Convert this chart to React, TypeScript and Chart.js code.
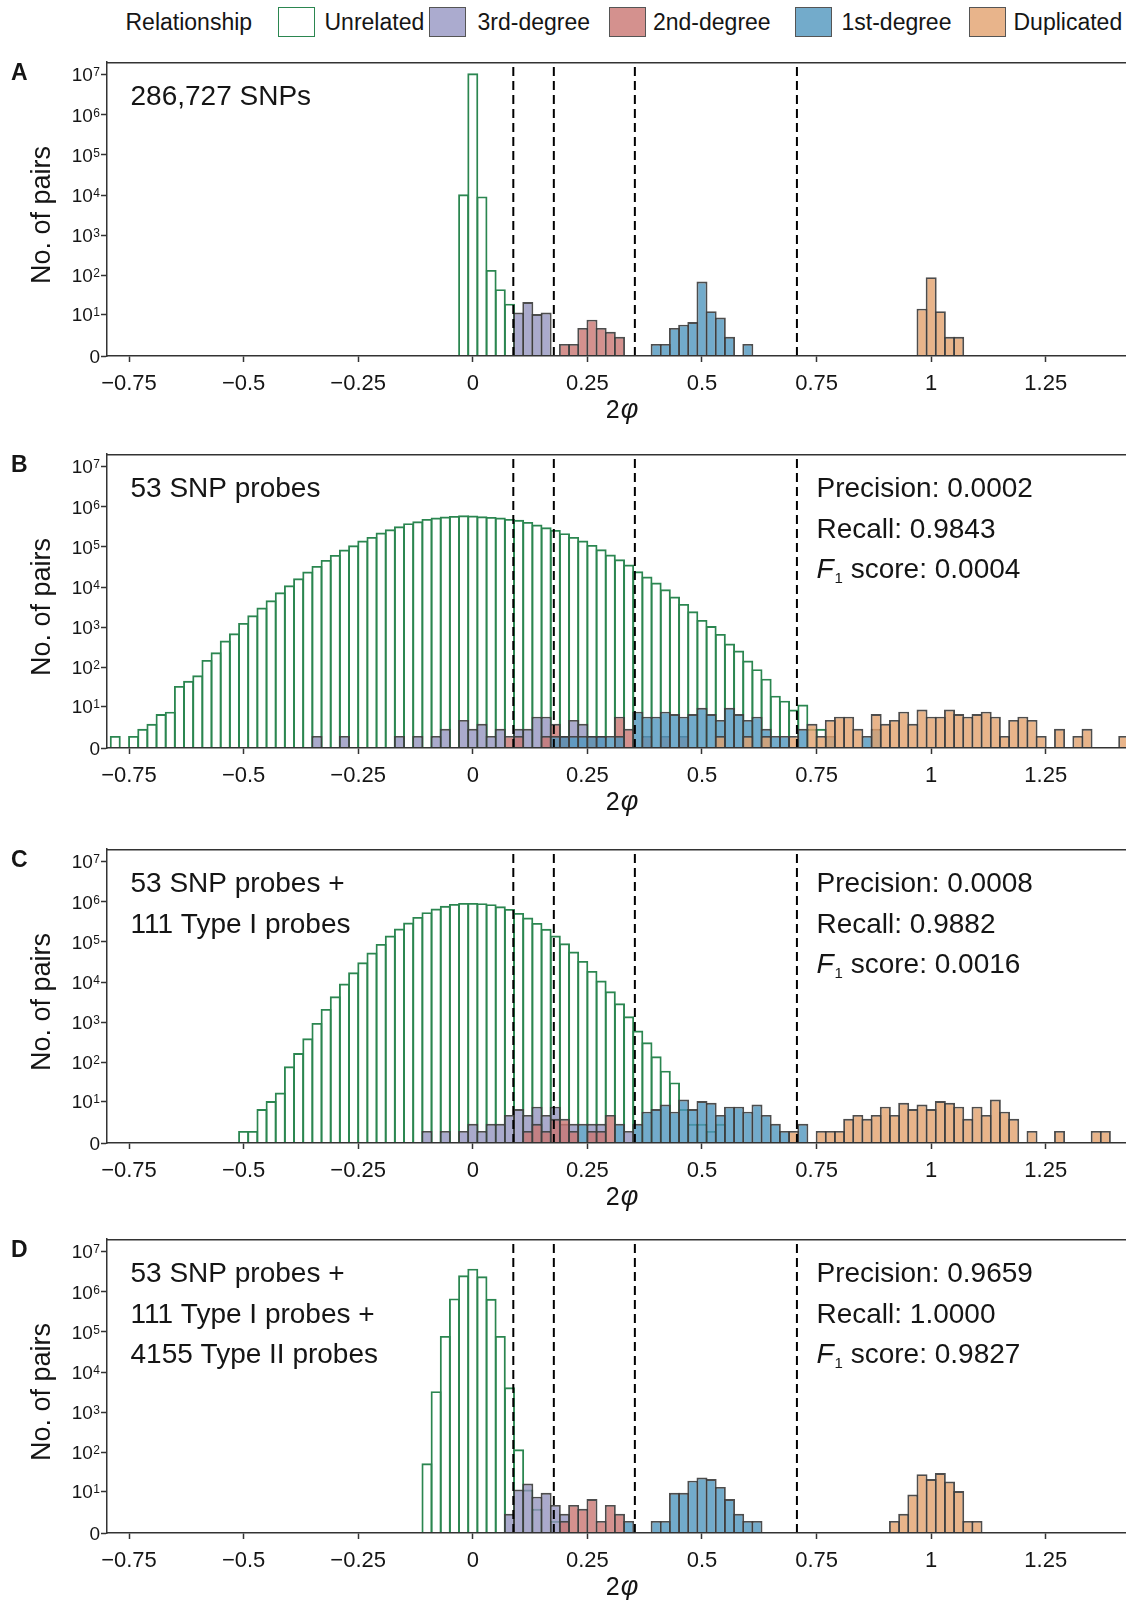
import React, { useEffect, useRef } from 'react';
import { Chart, Scale, registerables } from 'chart.js';

Chart.register(...registerables);

type Pair = [number, number];

// ---------------- data (2φ bin centre, number of pairs) ----------------
const X_TICKS = [-0.75, -0.5, -0.25, 0, 0.25, 0.5, 0.75, 1, 1.25];
const Y_TICKS = [0, 10, 100, 1e3, 1e4, 1e5, 1e6, 1e7];
const THRESHOLDS = [2 ** -3.5, 2 ** -2.5, 2 ** -1.5, 2 ** -0.5];
const LEGEND_TITLE = 'Relationship';
const CATEGORIES = ['Unrelated', '3rd-degree', '2nd-degree', '1st-degree', 'Duplicated'];

const A_UNRELATED: Pair[] = [[-0.02, 10500], [0, 10700000], [0.02, 9300], [0.04, 137], [0.06, 45], [0.08, 19]];
const A_THIRD: Pair[] = [[0.1, 11], [0.12, 21], [0.14, 10], [0.16, 11]];
const A_SECOND: Pair[] = [[0.2, 1], [0.22, 1], [0.24, 4], [0.26, 7], [0.28, 4], [0.3, 3], [0.32, 2]];
const A_FIRST: Pair[] = [[0.4, 1], [0.42, 1], [0.44, 4], [0.46, 5], [0.48, 6], [0.5, 70], [0.52, 12], [0.54, 8], [0.56, 2], [0.6, 1]];
const A_DUP: Pair[] = [[0.98, 14], [1, 90], [1.02, 12], [1.04, 2], [1.06, 2]];

const B_UNRELATED: Pair[] = [
  [-0.78, 1], [-0.74, 1], [-0.72, 2], [-0.7, 3], [-0.68, 6], [-0.66, 7], [-0.64, 34], [-0.62, 46],
  [-0.6, 63], [-0.58, 154], [-0.56, 239], [-0.54, 467], [-0.52, 711], [-0.5, 1285], [-0.48, 1995],
  [-0.46, 3097], [-0.44, 4713], [-0.42, 7450], [-0.4, 11120], [-0.38, 16630], [-0.36, 24330],
  [-0.34, 33650], [-0.32, 47500], [-0.3, 63250], [-0.28, 85900], [-0.26, 110000], [-0.24, 143800],
  [-0.22, 177400], [-0.2, 227500], [-0.18, 275000], [-0.16, 326500], [-0.14, 388000], [-0.12, 434700],
  [-0.1, 497500], [-0.08, 537000], [-0.06, 569000], [-0.04, 590000], [-0.02, 613000], [0, 600000],
  [0.02, 579000], [0.04, 557000], [0.06, 537000], [0.08, 497000], [0.1, 470000], [0.12, 419000],
  [0.14, 360000], [0.16, 308000], [0.18, 265000], [0.2, 219000], [0.22, 177000], [0.24, 144000],
  [0.26, 112000], [0.28, 87500], [0.3, 64400], [0.32, 49300], [0.34, 36400], [0.36, 24800],
  [0.38, 18300], [0.4, 13000], [0.42, 8850], [0.44, 5820], [0.46, 3820], [0.48, 2510], [0.5, 1530],
  [0.52, 1080], [0.54, 685], [0.56, 393], [0.58, 263], [0.6, 148], [0.62, 90], [0.64, 52], [0.66, 19],
  [0.68, 14], [0.7, 8], [0.72, 11], [0.74, 2], [0.76, 2],
];
const B_THIRD: Pair[] = [
  [-0.34, 1], [-0.28, 1], [-0.16, 1], [-0.12, 1], [-0.08, 1], [-0.06, 2], [-0.02, 4], [0, 2], [0.02, 3],
  [0.04, 1], [0.06, 2], [0.1, 2], [0.12, 2], [0.14, 5], [0.16, 5], [0.2, 1], [0.22, 4], [0.24, 3], [0.28, 1],
];
const B_SECOND: Pair[] = [
  [0.08, 1], [0.1, 1], [0.16, 1], [0.18, 3], [0.2, 1], [0.26, 1], [0.32, 5], [0.34, 2], [0.38, 1], [0.42, 1], [0.46, 1],
];
const B_FIRST: Pair[] = [
  [0.18, 1], [0.2, 1], [0.22, 1], [0.24, 1], [0.26, 1], [0.28, 1], [0.3, 1], [0.32, 1], [0.36, 7], [0.38, 5],
  [0.4, 5], [0.42, 7], [0.44, 6], [0.46, 5], [0.48, 6], [0.5, 9], [0.52, 6], [0.54, 4], [0.56, 9], [0.58, 6],
  [0.6, 4], [0.62, 5], [0.64, 2], [0.66, 1], [0.68, 1], [0.72, 2], [0.78, 1], [0.86, 1], [0.88, 2],
];
const B_DUP: Pair[] = [
  [0.54, 1], [0.6, 1], [0.64, 1], [0.7, 1], [0.74, 3], [0.76, 1], [0.78, 4], [0.8, 5], [0.82, 5], [0.84, 2],
  [0.88, 6], [0.9, 3], [0.92, 4], [0.94, 7], [0.96, 3], [0.98, 8], [1, 5], [1.02, 5], [1.04, 8], [1.06, 6],
  [1.08, 5], [1.1, 6], [1.12, 7], [1.14, 5], [1.16, 1], [1.18, 4], [1.2, 5], [1.22, 4], [1.24, 1], [1.28, 2],
  [1.32, 1], [1.34, 2], [1.42, 1],
];

const C_UNRELATED: Pair[] = [
  [-0.5, 1], [-0.48, 1], [-0.46, 6], [-0.44, 10], [-0.42, 17], [-0.4, 80], [-0.38, 172], [-0.36, 401],
  [-0.34, 966], [-0.32, 2150], [-0.3, 4450], [-0.28, 9200], [-0.26, 17600], [-0.24, 31200], [-0.22, 54300],
  [-0.2, 89100], [-0.18, 143800], [-0.16, 214700], [-0.14, 303000], [-0.12, 419000], [-0.1, 547000],
  [-0.08, 675000], [-0.06, 787000], [-0.04, 882000], [-0.02, 934000], [0, 934000], [0.02, 916000],
  [0.04, 865000], [0.06, 771000], [0.08, 662000], [0.1, 526000], [0.12, 403000], [0.14, 297000],
  [0.16, 211000], [0.18, 144000], [0.2, 92700], [0.22, 57500], [0.24, 33700], [0.26, 19000], [0.28, 10900],
  [0.3, 5930], [0.32, 2980], [0.34, 1415], [0.36, 622], [0.38, 318], [0.4, 142], [0.42, 62], [0.44, 31],
  [0.46, 6], [0.48, 2], [0.5, 2], [0.52, 1], [0.54, 2],
];
const C_THIRD: Pair[] = [
  [-0.1, 1], [-0.06, 1], [-0.02, 1], [0, 2], [0.02, 1], [0.04, 2], [0.06, 2], [0.08, 4], [0.1, 6], [0.12, 4],
  [0.14, 7], [0.16, 4], [0.18, 7], [0.2, 2], [0.22, 2], [0.26, 2], [0.28, 2], [0.34, 1],
];
const C_SECOND: Pair[] = [
  [0.12, 1], [0.14, 2], [0.16, 1], [0.18, 3], [0.2, 3], [0.22, 1], [0.26, 1], [0.28, 1], [0.3, 4],
];
const C_FIRST: Pair[] = [
  [0.24, 2], [0.32, 2], [0.36, 2], [0.38, 5], [0.4, 6], [0.42, 8], [0.44, 5], [0.46, 11], [0.48, 6], [0.5, 10],
  [0.52, 9], [0.54, 4], [0.56, 7], [0.58, 7], [0.6, 5], [0.62, 8], [0.64, 4], [0.66, 2], [0.68, 1], [0.72, 2],
];
const C_DUP: Pair[] = [
  [0.7, 1], [0.76, 1], [0.78, 1], [0.8, 1], [0.82, 3], [0.84, 4], [0.86, 3], [0.88, 4], [0.9, 7], [0.92, 4],
  [0.94, 9], [0.96, 6], [0.98, 8], [1, 6], [1.02, 10], [1.04, 9], [1.06, 7], [1.08, 3], [1.1, 7], [1.12, 4],
  [1.14, 11], [1.16, 5], [1.18, 3], [1.22, 1], [1.28, 1], [1.36, 1], [1.38, 1],
];

const D_UNRELATED: Pair[] = [
  [-0.1, 53], [-0.08, 3355], [-0.06, 79600], [-0.04, 679000], [-0.02, 2560000], [0, 3740000],
  [0.02, 2420000], [0.04, 667000], [0.06, 79600], [0.08, 4210], [0.1, 120], [0.12, 11], [0.14, 3], [0.18, 1],
];
const D_THIRD: Pair[] = [[0.08, 2], [0.1, 11], [0.12, 16], [0.14, 7], [0.16, 9], [0.18, 4], [0.2, 2]];
const D_SECOND: Pair[] = [[0.2, 1], [0.22, 4], [0.24, 3], [0.26, 6], [0.28, 1], [0.3, 4], [0.32, 2]];
const D_FIRST: Pair[] = [
  [0.34, 1], [0.4, 1], [0.42, 1], [0.44, 9], [0.46, 9], [0.48, 19], [0.5, 23], [0.52, 21], [0.54, 13],
  [0.56, 6], [0.58, 2], [0.6, 1], [0.62, 1],
];
const D_DUP: Pair[] = [
  [0.92, 1], [0.94, 2], [0.96, 8], [0.98, 28], [1, 21], [1.02, 30], [1.04, 18], [1.06, 10], [1.08, 1], [1.1, 1],
];

const A_LABEL = ['286,727 SNPs'];
const B_LABEL = ['53 SNP probes'];
const C_LABEL = ['53 SNP probes +', '111 Type I probes'];
const D_LABEL = ['53 SNP probes +', '111 Type I probes +', '4155 Type II probes'];
const B_STATS = ['0.0002', '0.9843', '0.0004'];
const C_STATS = ['0.0008', '0.9882', '0.0016'];
const D_STATS = ['0.9659', '1.0000', '0.9827'];

// ---------------- styling ----------------
const FONT = "'Liberation Sans', Arial, Helvetica, sans-serif";
const TEXT = '#151515';
const AXIS = '#333333';
const EDGE = 'rgba(62,62,62,0.92)';
const FILLS = ['rgba(255,255,255,0)', 'rgba(149,149,191,0.8)', 'rgba(201,118,114,0.8)', 'rgba(79,150,190,0.8)', 'rgba(226,161,109,0.8)'];
const EDGES = ['#2b8650', EDGE, EDGE, EDGE, EDGE];
const LEGEND_FILLS = ['#ffffff', '#ababcf', '#d4918e', '#73abcb', '#e8b48b'];
const LEGEND_EDGES = ['#2b8650', '#555555', '#555555', '#555555', '#555555'];

const X_MIN = -0.798;
const X_MAX = 1.425;
const Y_TOP_DECADES = 7.31;
const PAD_TOP = 10;
const PLOT_H = 294;
const X_AXIS_H = 75;
const Y_AXIS_W = 107;
const CANVAS_W = 1126;
const CANVAS_H = PAD_TOP + PLOT_H + X_AXIS_H;
const BAR_EDGE_W = 1.9;
const ANNOT_SIZE = 28;

// ---------------- log10(count + 1) scale ----------------
const toT = (v: number) => Math.log10(Math.max(0, v) + 1);
const fromT = (t: number) => Math.pow(10, t) - 1;

class Log1pScale extends Scale {
  static id = 'log1p';
  static defaults = {};
  determineDataLimits() {
    const b: any = (this as any).getUserBounds();
    (this as any).min = isFinite(b.min) ? b.min : 0;
    (this as any).max = isFinite(b.max) ? b.max : 1e7;
  }
  buildTicks() {
    return Y_TICKS.map((v) => ({ value: v }));
  }
  getLabelForValue(v: number) {
    return String(v);
  }
  configure() {
    super.configure();
    (this as any)._t0 = toT((this as any).min);
    (this as any)._t1 = toT((this as any).max);
  }
  getPixelForValue(v: number) {
    const s: any = this;
    return s.getPixelForDecimal((toT(v) - s._t0) / (s._t1 - s._t0));
  }
  getValueForPixel(p: number) {
    const s: any = this;
    return fromT(s._t0 + s.getDecimalForPixel(p) * (s._t1 - s._t0));
  }
}
Chart.register(Log1pScale as any);
Chart.defaults.font.family = FONT;

interface PanelSpec {
  letter: string;
  top: number;
  series: Pair[][];
  label: string[];
  stats: string[] | null;
}

const PANELS: PanelSpec[] = [
  { letter: 'A', top: 62, series: [A_UNRELATED, A_THIRD, A_SECOND, A_FIRST, A_DUP], label: A_LABEL, stats: null },
  { letter: 'B', top: 454, series: [B_UNRELATED, B_THIRD, B_SECOND, B_FIRST, B_DUP], label: B_LABEL, stats: B_STATS },
  { letter: 'C', top: 849, series: [C_UNRELATED, C_THIRD, C_SECOND, C_FIRST, C_DUP], label: C_LABEL, stats: C_STATS },
  { letter: 'D', top: 1239, series: [D_UNRELATED, D_THIRD, D_SECOND, D_FIRST, D_DUP], label: D_LABEL, stats: D_STATS },
];

const fmtX = (v: number) => (v < 0 ? '\u2212' + String(-v) : String(v));

function panelPlugin(spec: PanelSpec) {
  return {
    id: 'panelDecor' + spec.letter,
    afterDatasetsDraw(chart: any) {
      const { ctx, chartArea: a, scales } = chart;
      ctx.save();
      ctx.strokeStyle = '#000';
      ctx.lineWidth = 2;
      ctx.setLineDash([9, 5]);
      for (const t of THRESHOLDS) {
        const px = scales.x.getPixelForValue(t);
        ctx.beginPath();
        ctx.moveTo(px, a.bottom);
        ctx.lineTo(px, a.top + 2);
        ctx.stroke();
      }
      ctx.restore();
    },
    afterDraw(chart: any) {
      const { ctx, chartArea: a, scales } = chart;
      const y = scales.y;
      ctx.save();
      // top frame line
      ctx.strokeStyle = AXIS;
      ctx.lineWidth = 1.5;
      ctx.beginPath();
      ctx.moveTo(a.left, a.top + 0.75);
      ctx.lineTo(a.right, a.top + 0.75);
      ctx.stroke();

      ctx.fillStyle = TEXT;
      ctx.textBaseline = 'alphabetic';
      // y tick labels with superscript exponent
      const right = a.left - 7;
      for (const v of Y_TICKS) {
        const py = y.getPixelForValue(v);
        if (v === 0) {
          ctx.font = `19px ${FONT}`;
          ctx.textAlign = 'right';
          ctx.fillText('0', right, py + 7);
          continue;
        }
        const e = String(Math.round(Math.log10(v)));
        ctx.font = `12px ${FONT}`;
        const ew = ctx.measureText(e).width;
        ctx.textAlign = 'left';
        ctx.fillText(e, right - ew, py + 2);
        ctx.font = `19px ${FONT}`;
        ctx.textAlign = 'right';
        ctx.fillText('10', right - ew - 0.5, py + 7);
      }

      // y title
      ctx.save();
      ctx.translate(50, (a.top + a.bottom) / 2 + 6);
      ctx.rotate(-Math.PI / 2);
      ctx.textAlign = 'center';
      ctx.font = `27px ${FONT}`;
      ctx.fillText('No. of pairs', 0, 0);
      ctx.restore();

      // x title 2φ
      ctx.font = `25px ${FONT}`;
      const w2 = ctx.measureText('2').width;
      ctx.font = `italic 27px ${FONT}`;
      const wp = ctx.measureText('\u03c6').width;
      const cx = (a.left + a.right) / 2 + 5 - (w2 + wp) / 2;
      ctx.textAlign = 'left';
      ctx.font = `25px ${FONT}`;
      ctx.fillText('2', cx, a.bottom + 62);
      ctx.font = `italic 27px ${FONT}`;
      ctx.fillText('\u03c6', cx + w2 + 1, a.bottom + 62);

      // panel letter
      ctx.font = `bold 23px ${FONT}`;
      ctx.fillText(spec.letter, 11, a.top + 18);

      // annotation text
      ctx.font = `${ANNOT_SIZE}px ${FONT}`;
      spec.label.forEach((line, i) => ctx.fillText(line, 130.5, a.top + 43 + i * 40.6));

      if (spec.stats) {
        const sx = 816.5;
        ctx.font = `${ANNOT_SIZE}px ${FONT}`;
        ctx.fillText('Precision: ' + spec.stats[0], sx, a.top + 43);
        ctx.fillText('Recall: ' + spec.stats[1], sx, a.top + 43 + 40.6);
        const fy = a.top + 43 + 2 * 40.6;
        ctx.font = `italic ${ANNOT_SIZE}px ${FONT}`;
        ctx.fillText('F', sx, fy);
        const fw = ctx.measureText('F').width;
        ctx.font = `15px ${FONT}`;
        ctx.fillText('1', sx + fw + 1, fy + 5);
        const sw = ctx.measureText('1').width;
        ctx.font = `${ANNOT_SIZE}px ${FONT}`;
        ctx.fillText(' score: ' + spec.stats[2], sx + fw + 1 + sw, fy);
      }
      ctx.restore();
    },
  };
}

function Panel({ spec }: { spec: PanelSpec }) {
  const ref = useRef<HTMLCanvasElement>(null);
  useEffect(() => {
    const canvas = ref.current;
    if (!canvas) return;
    const datasets = spec.series.map((s, i) => ({
      label: CATEGORIES[i],
      data: s.map(([x, yv]) => ({ x, y: yv })),
      backgroundColor: FILLS[i],
      borderColor: EDGES[i],
      borderWidth: BAR_EDGE_W,
      borderSkipped: 'start',
      grouped: false,
      barPercentage: 1.2,
      categoryPercentage: 1,
      order: 5 - i,
    }));
    const tickGrid = {
      display: true,
      drawOnChartArea: false,
      drawTicks: true,
      tickLength: 6,
      tickColor: AXIS,
      tickWidth: 1.5,
      offset: false,
    };
    const chart = new Chart(canvas, {
      type: 'bar',
      data: { datasets } as any,
      options: {
        responsive: false,
        animation: false,
        events: [],
        layout: { padding: { top: PAD_TOP, left: 0, right: 0, bottom: 0 } },
        plugins: { legend: { display: false }, tooltip: { enabled: false } },
        scales: {
          x: {
            type: 'linear',
            min: X_MIN,
            max: X_MAX,
            offset: false,
            afterBuildTicks: (s: any) => {
              s.ticks = X_TICKS.map((v) => ({ value: v }));
            },
            afterFit: (s: any) => {
              s.height = X_AXIS_H;
            },
            ticks: {
              autoSkip: false,
              maxRotation: 0,
              minRotation: 0,
              padding: 9,
              color: TEXT,
              font: { size: 22, family: FONT },
              callback: (v: any) => fmtX(Number(v)),
            },
            grid: tickGrid,
            border: { display: true, color: AXIS, width: 1.5, z: 1 },
          },
          y: {
            type: 'log1p',
            min: 0,
            max: fromT(Y_TOP_DECADES),
            afterFit: (s: any) => {
              s.width = Y_AXIS_W;
            },
            ticks: { display: false },
            grid: tickGrid,
            border: { display: true, color: AXIS, width: 1.5, z: 1 },
          },
        },
      } as any,
      plugins: [panelPlugin(spec)],
    });
    return () => chart.destroy();
  }, [spec]);
  return <canvas ref={ref} width={CANVAS_W} height={CANVAS_H} style={{ display: 'block', width: CANVAS_W, height: CANVAS_H }} />;
}

const LEGEND_POS = [
  { box: 278, text: 324.5 },
  { box: 429, text: 477.5 },
  { box: 609, text: 653 },
  { box: 795, text: 841.5 },
  { box: 969, text: 1013.5 },
];

function Legend() {
  const textStyle: React.CSSProperties = {
    position: 'absolute',
    top: 8.5,
    fontSize: 23,
    lineHeight: '26px',
    color: TEXT,
    whiteSpace: 'nowrap',
    fontFamily: FONT,
  };
  return (
    <>
      <span style={{ ...textStyle, left: 125.5 }}>{LEGEND_TITLE}</span>
      {CATEGORIES.map((c, i) => (
        <React.Fragment key={c}>
          <div
            style={{
              position: 'absolute',
              left: LEGEND_POS[i].box,
              top: 7,
              width: 37,
              height: 30,
              boxSizing: 'border-box',
              border: `1.8px solid ${LEGEND_EDGES[i]}`,
              background: LEGEND_FILLS[i],
            }}
          />
          <span style={{ ...textStyle, left: LEGEND_POS[i].text }}>{c}</span>
        </React.Fragment>
      ))}
    </>
  );
}

export default function App() {
  return (
    <div
      style={{
        position: 'absolute',
        left: 0,
        top: 0,
        width: 1126,
        height: 1600,
        overflow: 'hidden',
        background: '#ffffff',
        fontFamily: FONT,
      }}
    >
      <Legend />
      {PANELS.map((p) => (
        <div key={p.letter} style={{ position: 'absolute', left: 0, top: p.top - PAD_TOP }}>
          <Panel spec={p} />
        </div>
      ))}
    </div>
  );
}
